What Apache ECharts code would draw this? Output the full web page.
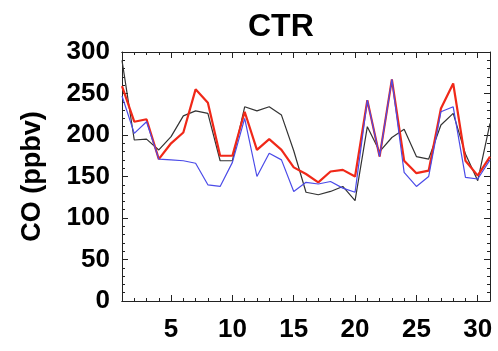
<!DOCTYPE html>
<html>
<head>
<meta charset="utf-8">
<script src="https://cdn.jsdelivr.net/npm/echarts@6/dist/echarts.min.js"></script>
<style>
  html, body { margin: 0; padding: 0; background: #fff; }
  #chart { width: 498px; height: 351px; }
</style>
</head>
<body>
<div id="chart"></div>
<script>
// Day of month
const days = [1, 2, 3, 4, 5, 6, 7, 8, 9, 10, 11, 12, 13, 14, 15, 16,
              17, 18, 19, 20, 21, 22, 23, 24, 25, 26, 27, 28, 29, 30, 31];

// CO mixing ratio (ppbv)
const coBlack = [290, 194, 195, 182, 198, 223, 229, 226, 169, 169, 234, 229, 234, 224, 181, 131,
                 128, 132, 138, 121, 210, 180, 197, 207, 174, 171, 212, 226, 177, 145, 214];
const coRed   = [259, 216, 219, 171, 190, 203, 255, 239, 175, 175, 228, 182, 195, 182, 161, 153,
                 143, 156, 158, 150, 242, 174, 267, 169, 154, 157, 232, 262, 169, 151, 174];
const coBlue  = [247, 202, 216, 171, 170, 169, 166, 140, 138, 167, 220, 150, 178, 170, 132, 143,
                 141, 144, 136, 131, 242, 174, 267, 155, 138, 150, 228, 234, 149, 147, 170];

// Axis ticks
const xMajorTicks = [5, 10, 15, 20, 25, 30];
const yTicks = [0, 50, 100, 150, 200, 250, 300];

const pairs = vals => days.map((d, i) => [d, vals[i]]);

const FONT = 'Liberation Sans, Arial, Helvetica, sans-serif';
const frame = { show: true, lineStyle: { color: '#222', width: 1 } };

function xAx(pos, major, labels) {
  return {
    type: 'value', position: pos, min: 1, max: 31,
    interval: 1,
    axisLine: frame,
    splitLine: { show: false },
    axisTick: major
      ? { show: true, inside: true, length: 6, customValues: xMajorTicks, lineStyle: { color: '#222' } }
      : { show: true, inside: true, length: 3, lineStyle: { color: '#222' } },
    axisLabel: labels
      ? { show: true, customValues: xMajorTicks, margin: 16, color: '#000',
          fontFamily: FONT, fontWeight: 'bold', fontSize: 26 }
      : { show: false }
  };
}

function yAx(pos, labels) {
  return {
    type: 'value', position: pos, min: 0, max: 300, interval: 50,
    axisLine: frame,
    splitLine: { show: false },
    axisTick: { show: true, inside: true, length: 6, lineStyle: { color: '#222' } },
    minorTick: { show: true, splitNumber: 5, length: 3, lineStyle: { color: '#222' } },
    axisLabel: labels
      ? { show: true, margin: 12, color: '#000', fontFamily: FONT, fontWeight: 'bold', fontSize: 26,
          formatter: v => (yTicks.includes(v) ? String(v) : '') }
      : { show: false },
    name: labels ? 'CO (ppbv)' : '',
    nameLocation: 'middle',
    nameGap: 76,
    nameTextStyle: { color: '#000', fontFamily: FONT, fontWeight: 'bold', fontSize: 27 }
  };
}

const chart = echarts.init(document.getElementById('chart'), null, { renderer: 'canvas' });
chart.setOption({
  backgroundColor: '#fff',
  animation: false,
  title: {
    text: 'CTR', left: 243, top: 6,
    textStyle: { color: '#000', fontFamily: FONT, fontWeight: 'bold', fontSize: 32 }
  },
  grid: { left: 122, right: 8, top: 52, bottom: 50 },
  xAxis: [
    xAx('bottom', false, true),
    xAx('bottom', true, false),
    xAx('top', false, false),
    xAx('top', true, false)
  ],
  yAxis: [yAx('left', true), yAx('right', false)],
  series: [
    { type: 'line', data: pairs(coBlack), showSymbol: false, lineStyle: { color: '#333', width: 1.2 } },
    { type: 'line', data: pairs(coRed), showSymbol: false, lineStyle: { color: '#f02818', width: 2.2 } },
    { type: 'line', data: pairs(coBlue), showSymbol: false, lineStyle: { color: '#4b4be8', width: 1.2 } }
  ]
});
</script>
</body>
</html>
